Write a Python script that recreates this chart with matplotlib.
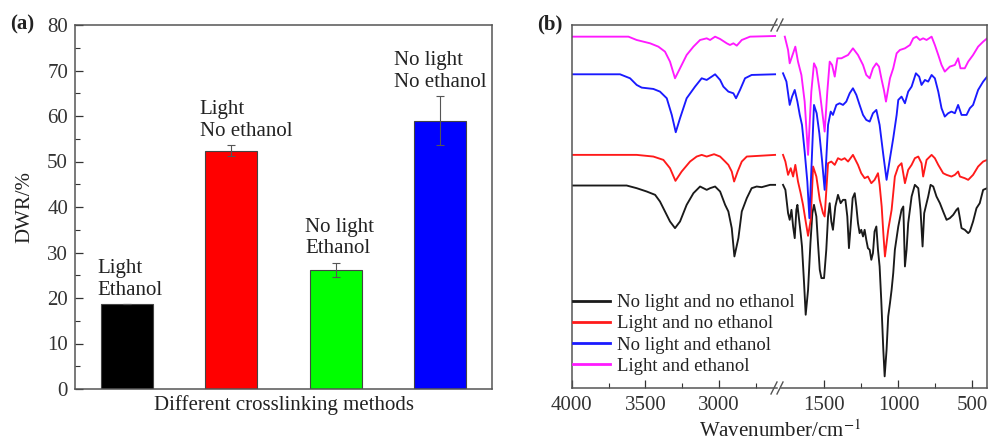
import numpy as np
import matplotlib
matplotlib.use("Agg")
from matplotlib import pyplot as plt
from matplotlib.lines import Line2D
from matplotlib.ticker import MultipleLocator, FixedLocator

plt.rcParams["font.family"] = ["Liberation Serif", "DejaVu Serif"]
plt.rcParams["mathtext.fontset"] = "stix"
plt.rcParams["text.color"] = "#222222"
plt.rcParams["axes.labelcolor"] = "#222222"
plt.rcParams["xtick.color"] = "#333333"
plt.rcParams["ytick.color"] = "#333333"

# ---- (a) DWR of the four crosslinking methods ----
methods = ["Light\nEthanol", "Light\nNo ethanol", "No light\nEthanol", "No light\nNo ethanol"]
dwr = [18.6, 52.4, 26.2, 59.0]
dwr_err = [0.0, 1.2, 1.5, 5.3]
bar_colors = ["#000000", "#ff0000", "#00ff00", "#0000ff"]

# ---- (b) FTIR spectra, transmittance in arbitrary units ----
# high wavenumber part (4000-2620) and fingerprint part (1780-400)
nn_hi_wn = [4000, 3627, 3559, 3491, 3434, 3401, 3367, 3333, 3299, 3265, 3220, 3174, 3129, 3084, 3061,
            3027, 2993, 2959, 2937, 2914, 2896, 2869, 2846, 2812, 2779, 2745, 2711, 2654, 2620]
nn_hi_t = [60.8, 60.8, 60, 59, 58, 56, 53, 50, 48, 50, 55, 58.5, 60.5, 59.5, 60,
           60.5, 59, 55, 53, 48, 39.5, 45, 53, 57, 60, 60.5, 60.3, 61, 61]
nn_fp_wn = [1779, 1763, 1745, 1734, 1722, 1711, 1700, 1689, 1682, 1673,
            1660, 1651, 1637, 1626, 1610, 1594, 1581, 1570, 1554, 1543,
            1531, 1520, 1502, 1487, 1475, 1464, 1453, 1442, 1426, 1408,
            1390, 1374, 1358, 1345, 1334, 1322, 1309, 1295, 1284, 1273,
            1262, 1251, 1239, 1228, 1217, 1206, 1194, 1183, 1172, 1161,
            1149, 1138, 1127, 1116, 1102, 1093, 1080, 1069, 1057, 1046,
            1035, 1024, 1001, 979, 967, 956, 945, 934, 911, 889,
            866, 851, 837, 826, 810, 799, 783, 765, 743, 720,
            698, 675, 653, 630, 608, 597, 585, 574, 552, 529,
            518, 496, 473, 451, 428, 401]
nn_fp_t = [61, 59.5, 52.5, 50.5, 53.5, 48.5, 45, 53.5, 55, 51.5,
           46.5, 42.5, 31.5, 22, 29.5, 43.5, 52.5, 55, 51.5, 43.5,
           35.5, 33, 33, 41.5, 51.5, 55.5, 50, 47.5, 54.5, 58,
           55.5, 56.5, 56.5, 51.5, 42, 49, 57, 58.5, 54.5, 49.5,
           46.5, 47.5, 45.5, 47.5, 44.5, 42, 41.5, 38.5, 40.5, 47,
           48.5, 41.5, 36.5, 26.5, 11.5, 3.5, 11.5, 21.5, 25.5, 29.5,
           34.5, 41.5, 48.5, 53.5, 54.5, 36.5, 41.5, 49.5, 57.5, 61,
           60, 53.5, 42.5, 52.5, 55.5, 57.5, 61, 60.5, 57.5, 55.5,
           53, 50.5, 51, 52, 53.5, 54, 51, 48, 47.5, 46.5,
           47, 50, 54, 55.5, 59.5, 60]

ln_hi_wn = [4000, 3559, 3446, 3378, 3333, 3296, 3254, 3197, 3152, 3118, 3084, 3034, 2993, 2959,
            2937, 2914, 2898, 2874, 2846, 2812, 2620]
ln_hi_t = [70, 70, 69.5, 68.5, 66, 62.2, 65, 68, 69.5, 70, 69.5, 70.2, 69.5, 68,
           67, 65, 62, 65, 68, 69.5, 70]
ln_fp_wn = [1779, 1763, 1745, 1727, 1711, 1696, 1678, 1660, 1644, 1626,
            1610, 1592, 1576, 1554, 1531, 1509, 1498, 1475, 1453, 1430,
            1408, 1385, 1363, 1340, 1307, 1273, 1251, 1228, 1206, 1183,
            1161, 1138, 1127, 1113, 1102, 1091, 1069, 1046, 1024, 1001,
            979, 956, 934, 911, 889, 866, 844, 833, 810, 776,
            754, 731, 698, 675, 642, 619, 597, 585, 552, 529,
            496, 462, 428, 401]
ln_fp_t = [70, 68, 64, 66, 63.5, 67, 62, 58.5, 55, 50,
           45.7, 50.5, 66.5, 63.5, 56.5, 52.5, 51.5, 67.5, 68, 67,
           69, 68.5, 69, 68, 70, 67, 64.5, 63, 63.5, 61.5,
           62.5, 64.5, 61, 54.5, 46.5, 39.5, 47.5, 53.5, 63.5, 66.5,
           67.5, 61.5, 65.5, 67, 69, 69.5, 67.5, 63.5, 68.5, 70,
           69, 67, 64.5, 64, 63.5, 64, 65, 63.5, 63, 62.5,
           64, 66.5, 68, 68.5]

ne_hi_wn = [4000, 3672, 3604, 3559, 3525, 3446, 3401, 3355, 3321, 3294, 3265, 3220, 3163, 3118, 3084,
            3050, 3027, 2993, 2971, 2937, 2903, 2885, 2858, 2824, 2779, 2620]
ne_hi_t = [94.2, 94.2, 93, 91, 90.2, 89.8, 89, 87, 82, 76.8, 81, 87, 90.5, 93, 92.5,
           93.5, 94.2, 92.5, 90.5, 89, 88.5, 87, 89.5, 93, 94, 94.2]
ne_fp_wn = [1779, 1756, 1734, 1718, 1700, 1682, 1666, 1651, 1633, 1615,
            1601, 1585, 1570, 1552, 1534, 1516, 1498, 1475, 1457, 1442,
            1419, 1397, 1374, 1352, 1329, 1307, 1284, 1262, 1239, 1217,
            1194, 1172, 1149, 1127, 1102, 1080, 1057, 1035, 1012, 1001,
            979, 956, 934, 911, 882, 860, 844, 821, 799, 776,
            754, 731, 709, 687, 664, 642, 619, 597, 574, 540,
            518, 496, 462, 428, 401]
ne_fp_t = [94.5, 92, 85, 87.5, 89.5, 86, 82, 79, 71, 62,
           51, 68.5, 85, 82.5, 76.5, 68.5, 59.5, 79, 83, 82,
           85, 85.5, 85, 86, 88.5, 90, 88, 85, 82, 80.5,
           80, 82.5, 83.5, 79, 70, 62.5, 69, 75, 82, 86.5,
           87.5, 85.5, 89, 90.5, 94.5, 93.5, 91, 92.5, 92, 94,
           93, 89, 84, 81.5, 82.5, 83, 82.5, 85, 82, 82,
           84, 85, 89.5, 92, 93.5]

le_hi_wn = [4000, 3615, 3559, 3468, 3412, 3367, 3333, 3299, 3265, 3220, 3174, 3129, 3084, 3061,
            3027, 2993, 2948, 2926, 2903, 2880, 2846, 2790, 2620]
le_hi_t = [105.5, 105.5, 104.5, 103.5, 102.5, 101, 98, 93, 96, 100, 102.5, 104.5, 105, 104.5,
           105.5, 104.8, 103.5, 103, 103.5, 102.8, 104.5, 105.5, 105.7]
le_fp_wn = [1767, 1745, 1734, 1711, 1696, 1678, 1655, 1633, 1610, 1588,
            1570, 1554, 1531, 1509, 1498, 1480, 1464, 1448, 1430, 1412,
            1385, 1363, 1340, 1307, 1273, 1239, 1217, 1194, 1172, 1149,
            1131, 1113, 1098, 1084, 1057, 1035, 1012, 990, 956, 922,
            900, 878, 855, 833, 810, 776, 754, 731, 709, 687,
            653, 619, 597, 581, 552, 529, 496, 462, 428, 401]
le_fp_t = [105.5, 101.5, 97.5, 100.5, 102.5, 98, 94, 86, 70, 89,
           97.5, 96, 89, 81, 77, 89, 98, 97, 93.5, 99,
           99, 99.5, 100, 102, 100, 97, 94, 93, 96, 97.5,
           96.5, 92.5, 89.5, 86, 93, 96, 100.5, 101.5, 102, 103,
           105, 105.5, 104.5, 105, 104.5, 105.5, 103, 100, 97, 95,
           96.5, 97, 99, 96, 96, 98, 100, 102.5, 104, 105]

spectra = [
    ("No light and no ethanol", "#1a1a1a", nn_hi_wn, nn_hi_t, nn_fp_wn, nn_fp_t),
    ("Light and no ethanol", "#ff1a1a", ln_hi_wn, ln_hi_t, ln_fp_wn, ln_fp_t),
    ("No light and ethanol", "#1a1aff", ne_hi_wn, ne_hi_t, ne_fp_wn, ne_fp_t),
    ("Light and ethanol", "#ff1aff", le_hi_wn, le_hi_t, le_fp_wn, le_fp_t),
]

W, H = 992, 443
fig = plt.figure(figsize=(W / 100, H / 100), dpi=100)
spine_col = "#555555"

# ---------------- panel (a) ----------------
ax = fig.add_axes([75 / W, 1 - 389 / H, 417 / W, 364 / H])
x = np.arange(1, len(dwr) + 1)
ax.bar(x, dwr, width=0.5, color=bar_colors, edgecolor="#444444", linewidth=0.8, zorder=2)
ax.errorbar(x, dwr, yerr=dwr_err, fmt="none", ecolor="#555555", elinewidth=0.8,
            capsize=3, capthick=0.8, zorder=3)
label_dx = [0.03, 0.14, 0.04, 0.0]
for xi, v, e, lab, dx in zip(x, dwr, dwr_err, methods, label_dx):
    ax.text(xi + dx, v + e + 1.0, lab, ha="center", va="bottom", multialignment="left",
            fontsize=15, linespacing=1.2)
ax.set_xlim(0.5, 4.5)
ax.set_ylim(0, 80)
ax.set_xticks([])
ax.yaxis.set_major_locator(MultipleLocator(10))
ax.yaxis.set_minor_locator(MultipleLocator(5))
ax.tick_params(axis="y", which="both", direction="in", labelsize=15, pad=5)
ax.tick_params(axis="y", which="major", length=6, width=0.9)
ax.tick_params(axis="y", which="minor", length=3.5, width=0.8)
for s in ax.spines.values():
    s.set_color(spine_col)
    s.set_linewidth(1.1)
ax.set_ylabel("DWR/%", fontsize=15)
ax.yaxis.set_label_coords(-0.098, 0.5)
ax.set_xlabel("Different crosslinking methods", fontsize=15)
ax.xaxis.set_label_coords(0.5, -0.018)
fig.text(22 / W, 1 - 24 / H, "(a)", fontsize=15, fontweight="bold", ha="center", va="center")

# ---------------- panel (b), broken x axis ----------------
bottom = 1 - 388 / H
height = 363 / H
ax_hi = fig.add_axes([571.7 / W, bottom, 205.3 / W, height])
ax_fp = fig.add_axes([781.4 / W, bottom, 205.9 / W, height])

handles = []
for name, col, hw, ht, fw, ft in spectra:
    ax_hi.plot(hw, ht, color=col, lw=1.35)
    ax_fp.plot(fw, ft, color=col, lw=1.35)
    handles.append(Line2D([], [], color=col, lw=2.0, label=name))

ax_hi.set_xlim(4000, 2607)
ax_fp.set_xlim(1790, 400)
for a in (ax_hi, ax_fp):
    a.set_ylim(0, 109)
    a.set_yticks([])
    a.tick_params(axis="x", which="both", direction="in", labelsize=15, pad=6)
    a.tick_params(axis="x", which="major", length=6, width=0.9)
    a.tick_params(axis="x", which="minor", length=3.5, width=0.8)
    for s in a.spines.values():
        s.set_color(spine_col)
        s.set_linewidth(1.1)
ax_hi.spines["right"].set_visible(False)
ax_fp.spines["left"].set_visible(False)
ax_hi.xaxis.set_major_locator(FixedLocator([4000, 3500, 3000]))
ax_hi.xaxis.set_minor_locator(FixedLocator([3750, 3250, 2750]))
ax_fp.xaxis.set_major_locator(FixedLocator([1500, 1000, 500]))
ax_fp.xaxis.set_minor_locator(FixedLocator([1250, 750]))

# break marks
for ytop in (19, 382):
    for x0 in (771, 777):
        fig.add_artist(Line2D([x0 / W, (x0 + 6) / W], [1 - (ytop + 12) / H, 1 - ytop / H],
                              transform=fig.transFigure, color=spine_col, lw=1.0))

fig.legend(handles=handles, loc="lower left", bbox_to_anchor=(572.7 / W, 68 / H),
           frameon=False, fontsize=13.5, handlelength=2.0, handletextpad=0.35,
           labelspacing=0.22, borderpad=0, borderaxespad=0)

fig.text(780 / W, 6 / H, "Wavenumber/cm$^{-1}$", fontsize=15, ha="center", va="baseline")
fig.text(550 / W, 1 - 24 / H, "(b)", fontsize=15, fontweight="bold", ha="center", va="center")

fig.savefig("out.png", dpi=100)
